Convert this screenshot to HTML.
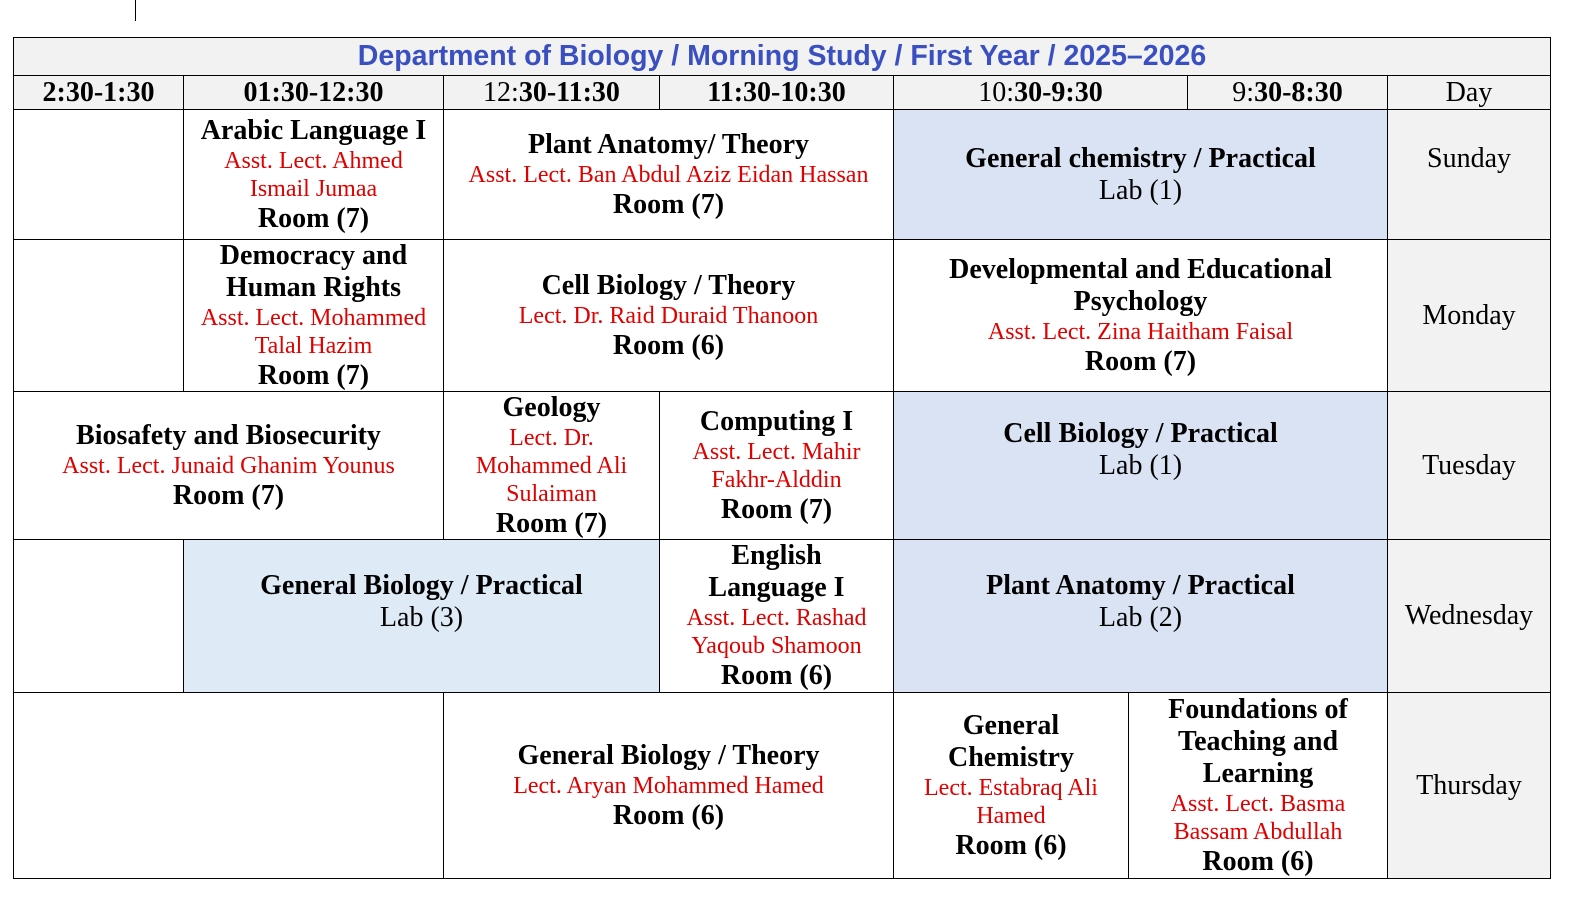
<!DOCTYPE html>
<html><head><meta charset="utf-8"><style>
body{margin:0;width:1570px;height:913px;background:#fff;position:relative;overflow:hidden;font-family:"Liberation Serif",serif}
.c{position:absolute;box-sizing:border-box;border:1px solid #000;display:flex;flex-direction:column;align-items:center;justify-content:center;text-align:center;margin:0;white-space:nowrap}
.b{font-weight:bold;font-size:28px;line-height:32px;color:#000}
.r{color:#e00000;font-size:24px;line-height:28px}
.n{font-size:28px;line-height:32px}
.h{background:#f2f2f2;font-size:28px;line-height:30px}
.g{background:#f2f2f2}
.bl{background:#dae3f3}
.bl2{background:#deebf7}
</style></head><body>
<div style="position:absolute;left:135px;top:0;width:1px;height:21px;background:#000"></div>
<div class="c g" style="left:13px;top:37px;width:1538px;height:39px;font-family:'Liberation Sans',sans-serif;font-weight:bold;font-size:28.5px;color:#3a4fc0">Department of Biology / Morning Study / First Year / 2025–2026</div>
<div class="c h b" style="left:13px;top:75px;width:171px;height:35px">2:30-1:30</div>
<div class="c h b" style="left:183px;top:75px;width:261px;height:35px">01:30-12:30</div>
<div class="c h" style="left:443px;top:75px;width:217px;height:35px"><span>12:<b>30-11:30</b></span></div>
<div class="c h b" style="left:659px;top:75px;width:235px;height:35px">11:30-10:30</div>
<div class="c h" style="left:893px;top:75px;width:295px;height:35px"><span>10:<b>30-9:30</b></span></div>
<div class="c h" style="left:1187px;top:75px;width:201px;height:35px"><span>9:<b>30-8:30</b></span></div>
<div class="c h" style="left:1387px;top:75px;width:164px;height:35px">Day</div>

<!-- Sunday -->
<div class="c" style="left:13px;top:109px;width:171px;height:131px"></div>
<div class="c" style="left:183px;top:109px;width:261px;height:131px"><div class="b">Arabic Language I</div><div class="r">Asst. Lect. Ahmed<br>Ismail Jumaa</div><div class="b">Room (7)</div></div>
<div class="c" style="left:443px;top:109px;width:451px;height:131px"><div class="b">Plant Anatomy/ Theory</div><div class="r">Asst. Lect. Ban Abdul Aziz Eidan Hassan</div><div class="b">Room (7)</div></div>
<div class="c bl" style="left:893px;top:109px;width:495px;height:131px"><div class="b">General chemistry / Practical</div><div class="n">Lab (1)</div></div>
<div class="c h" style="left:1387px;top:109px;width:164px;height:131px;justify-content:flex-start;padding-top:34px">Sunday</div>

<!-- Monday -->
<div class="c" style="left:13px;top:239px;width:171px;height:153px"></div>
<div class="c" style="left:183px;top:239px;width:261px;height:153px"><div class="b">Democracy and<br>Human Rights</div><div class="r">Asst. Lect. Mohammed<br>Talal Hazim</div><div class="b">Room (7)</div></div>
<div class="c" style="left:443px;top:239px;width:451px;height:153px"><div class="b">Cell Biology / Theory</div><div class="r">Lect. Dr. Raid Duraid Thanoon</div><div class="b">Room (6)</div></div>
<div class="c" style="left:893px;top:239px;width:495px;height:153px"><div class="b">Developmental and Educational<br>Psychology</div><div class="r">Asst. Lect. Zina Haitham Faisal</div><div class="b">Room (7)</div></div>
<div class="c h" style="left:1387px;top:239px;width:164px;height:153px">Monday</div>

<!-- Tuesday -->
<div class="c" style="left:13px;top:391px;width:431px;height:149px"><div class="b">Biosafety and Biosecurity</div><div class="r">Asst. Lect. Junaid Ghanim Younus</div><div class="b">Room (7)</div></div>
<div class="c" style="left:443px;top:391px;width:217px;height:149px"><div class="b">Geology</div><div class="r">Lect. Dr.<br>Mohammed Ali<br>Sulaiman</div><div class="b">Room (7)</div></div>
<div class="c" style="left:659px;top:391px;width:235px;height:149px"><div class="b">Computing I</div><div class="r">Asst. Lect. Mahir<br>Fakhr-Alddin</div><div class="b">Room (7)</div></div>
<div class="c bl" style="left:893px;top:391px;width:495px;height:149px;justify-content:flex-start;padding-top:26px"><div class="b">Cell Biology / Practical</div><div class="n">Lab (1)</div></div>
<div class="c h" style="left:1387px;top:391px;width:164px;height:149px">Tuesday</div>

<!-- Wednesday -->
<div class="c" style="left:13px;top:539px;width:171px;height:154px"></div>
<div class="c bl2" style="left:183px;top:539px;width:477px;height:154px;justify-content:flex-start;padding-top:30px"><div class="b">General Biology / Practical</div><div class="n">Lab (3)</div></div>
<div class="c" style="left:659px;top:539px;width:235px;height:154px"><div class="b">English<br>Language I</div><div class="r">Asst. Lect. Rashad<br>Yaqoub Shamoon</div><div class="b">Room (6)</div></div>
<div class="c bl" style="left:893px;top:539px;width:495px;height:154px;justify-content:flex-start;padding-top:30px"><div class="b">Plant Anatomy / Practical</div><div class="n">Lab (2)</div></div>
<div class="c h" style="left:1387px;top:539px;width:164px;height:154px">Wednesday</div>

<!-- Thursday -->
<div class="c" style="left:13px;top:692px;width:431px;height:187px"></div>
<div class="c" style="left:443px;top:692px;width:451px;height:187px"><div class="b">General Biology / Theory</div><div class="r">Lect. Aryan Mohammed Hamed</div><div class="b">Room (6)</div></div>
<div class="c" style="left:893px;top:692px;width:236px;height:187px"><div class="b">General<br>Chemistry</div><div class="r">Lect. Estabraq Ali<br>Hamed</div><div class="b">Room (6)</div></div>
<div class="c" style="left:1128px;top:692px;width:260px;height:187px"><div class="b">Foundations of<br>Teaching and<br>Learning</div><div class="r">Asst. Lect. Basma<br>Bassam Abdullah</div><div class="b">Room (6)</div></div>
<div class="c h" style="left:1387px;top:692px;width:164px;height:187px">Thursday</div>
</body></html>
